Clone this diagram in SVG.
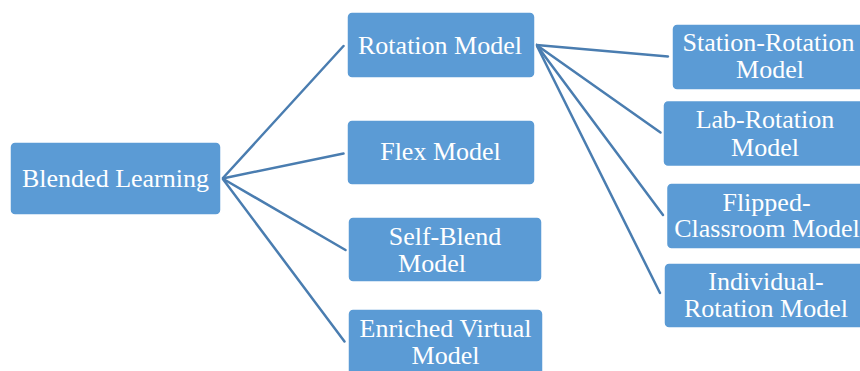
<svg xmlns="http://www.w3.org/2000/svg" width="860" height="371" viewBox="0 0 860 371">
<style>
.box{fill:#5b9bd5;stroke:#ffffff;stroke-width:1.5}
.t{font-family:'Liberation Serif','Times New Roman',Times,'DejaVu Serif',serif;font-size:26px;fill:#ffffff;text-anchor:middle}
.c{stroke:#4a7db0;stroke-width:2.5;fill:none;stroke-linecap:round}
</style>
<rect width="860" height="371" fill="#ffffff"/>
<g id="connectors">
<line class="c" x1="222.5" y1="178.5" x2="343.5" y2="46"/>
<line class="c" x1="222.5" y1="178.5" x2="343.5" y2="153.5"/>
<line class="c" x1="222.5" y1="178.5" x2="345.5" y2="250"/>
<line class="c" x1="222.5" y1="178.5" x2="344.5" y2="341.5"/>
<line class="c" x1="536.5" y1="45" x2="668" y2="56.5"/>
<line class="c" x1="536.5" y1="45" x2="660.5" y2="132.5"/>
<line class="c" x1="536.5" y1="45" x2="663" y2="215"/>
<line class="c" x1="536.5" y1="45" x2="660" y2="293"/>
</g>
<g id="blended-learning">
<rect class="box" x="10" y="142" width="211" height="73" rx="5"/>
<text class="t" x="115.5" y="187">Blended Learning</text>
</g>
<g id="rotation-model">
<rect class="box" x="347" y="12" width="188" height="66" rx="5"/>
<text class="t" x="440" y="53.5">Rotation Model</text>
</g>
<g id="flex-model">
<rect class="box" x="347" y="120" width="188" height="65" rx="5"/>
<text class="t" x="440.5" y="160">Flex Model</text>
</g>
<g id="self-blend-model">
<rect class="box" x="348" y="217" width="194" height="65" rx="5"/>
<text class="t" x="445" y="245">Self-Blend</text>
<text class="t" x="432" y="272">Model</text>
</g>
<g id="enriched-virtual-model">
<rect class="box" x="348" y="309" width="195" height="70" rx="5"/>
<text class="t" x="445.5" y="337">Enriched Virtual</text>
<text class="t" x="445.5" y="364">Model</text>
</g>
<g id="station-rotation-model">
<rect class="box" x="672" y="24" width="195" height="66" rx="5"/>
<text class="t" x="768.5" y="51">Station-Rotation</text>
<text class="t" x="770" y="78">Model</text>
</g>
<g id="lab-rotation-model">
<rect class="box" x="663" y="100.5" width="204" height="66" rx="5"/>
<text class="t" x="765" y="127.5">Lab-Rotation</text>
<text class="t" x="765" y="155.5">Model</text>
</g>
<g id="flipped-classroom-model">
<rect class="box" x="666.5" y="183" width="200" height="66" rx="5"/>
<text class="t" x="766.5" y="210.5">Flipped-</text>
<text class="t" x="767" y="237">Classroom Model</text>
</g>
<g id="individual-rotation-model">
<rect class="box" x="664" y="263" width="203" height="65" rx="5"/>
<text class="t" x="766" y="290">Individual-</text>
<text class="t" x="766" y="316.5">Rotation Model</text>
</g>
</svg>
